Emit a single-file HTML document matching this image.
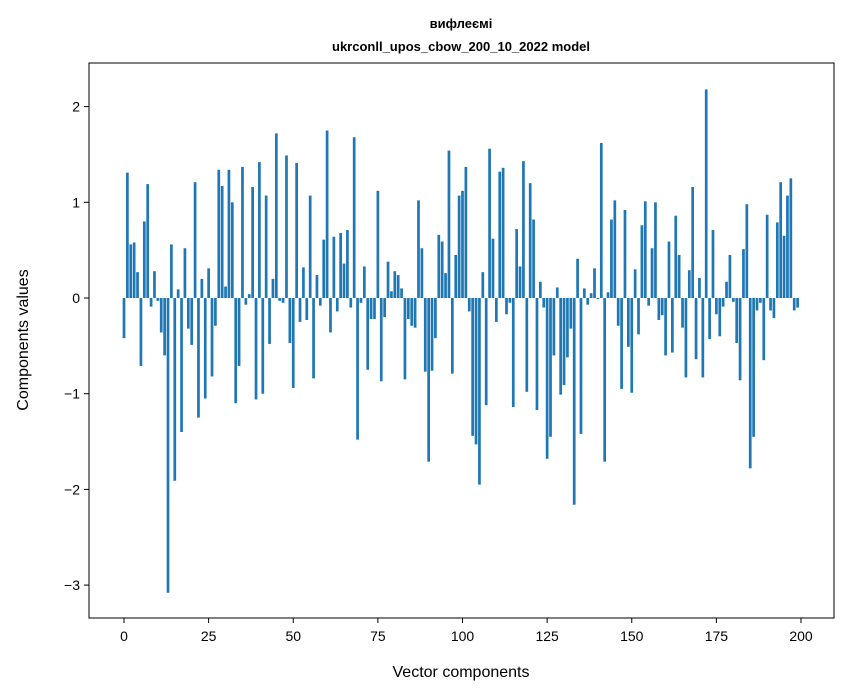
<!DOCTYPE html>
<html><head><meta charset="utf-8"><style>
body{margin:0;background:#fff;}
svg{display:block;font-family:"Liberation Sans","DejaVu Sans",sans-serif;}
</style></head><body>
<svg id="chart" width="847" height="696" xmlns="http://www.w3.org/2000/svg">
<rect width="847" height="696" fill="#fff"/>
<text x="461" y="28" text-anchor="middle" font-size="13" font-weight="bold">вифлеємі</text>
<text x="461" y="51" text-anchor="middle" font-size="13" font-weight="bold">ukrconll_upos_cbow_200_10_2022 model</text>
<g id="bars"></g>
<g id="xticks"></g>
<g id="yticks"></g>
<rect x="89" y="63" width="745" height="555" fill="none" stroke="#000" stroke-width="1"/>
<text x="461" y="677" text-anchor="middle" font-size="16">Vector components</text>
<text transform="translate(28,340) rotate(-90)" text-anchor="middle" font-size="16">Components values</text>
</svg>
<script>
const values = [
-0.42,1.31,0.56,0.58,0.27,-0.71,0.80,1.19,-0.09,0.28,
-0.03,-0.36,-0.60,-3.08,0.56,-1.91,0.09,-1.40,0.52,-0.32,
-0.49,1.21,-1.25,0.20,-1.05,0.31,-0.82,-0.29,1.34,1.17,
0.12,1.34,1.00,-1.10,-0.71,1.37,-0.07,0.04,1.16,-1.06,
1.42,-1.00,1.07,-0.48,0.20,1.72,-0.03,-0.05,1.49,-0.47,
-0.94,1.41,-0.25,0.32,-0.23,1.07,-0.84,0.24,-0.08,0.61,
1.75,-0.36,0.64,-0.14,0.68,0.36,0.71,-0.10,1.68,-1.48,
-0.05,0.33,-0.75,-0.22,-0.22,1.12,-0.87,-0.20,0.38,0.07,
0.28,0.24,0.10,-0.85,-0.22,-0.29,-0.31,1.02,0.52,-0.77,
-1.71,-0.76,-0.42,0.66,0.59,0.26,1.54,-0.79,0.45,1.07,
1.12,1.37,-0.14,-1.44,-1.53,-1.95,0.27,-1.12,1.56,0.62,
-0.25,1.32,1.36,-0.17,-0.05,-1.14,0.72,0.33,1.43,-0.98,
1.20,0.82,-1.17,0.17,-0.10,-1.68,-1.45,-0.60,0.11,-1.01,
-0.91,-0.62,-0.32,-2.16,0.41,-1.42,0.10,-0.07,0.05,0.31,
-0.01,1.62,-1.71,0.06,0.82,1.02,-0.29,-0.95,0.92,-0.51,
-0.99,0.30,-0.38,0.76,1.01,-0.08,0.52,1.00,-0.23,-0.18,
-0.60,0.59,-0.57,0.86,0.45,-0.31,-0.83,0.29,1.16,-0.64,
0.21,-0.83,2.18,-0.43,0.71,-0.17,-0.40,-0.09,0.17,0.45,
-0.04,-0.47,-0.86,0.51,0.98,-1.78,-1.45,-0.13,-0.05,-0.65,
0.87,-0.13,-0.21,0.79,1.21,0.65,1.07,1.25,-0.13,-0.10
];
const xTicks = [0,25,50,75,100,125,150,175,200];
const yTicks = [-3,-2,-1,0,1,2];
const yTickLabels = ["\u22123","\u22122","\u22121","0","1","2"];
const NS="http://www.w3.org/2000/svg";
function xs(i){return 124 + 3.385*i;}
function ys(v){return 298 - 95.7*v;}
const bars=document.getElementById('bars');
values.forEach((v,i)=>{
  const r=document.createElementNS(NS,'rect');
  
  
  const y0=ys(0), y1=ys(v);
  r.setAttribute('x',xs(i)-1.354);
  r.setAttribute('width',2.708);
  r.setAttribute('y',Math.min(y0,y1));
  r.setAttribute('height',Math.abs(y1-y0));
  r.setAttribute('fill','#1f77b4');
  bars.appendChild(r);
});
const xg=document.getElementById('xticks');
xTicks.forEach(t=>{
  const l=document.createElementNS(NS,'line');
  
  
  l.setAttribute('x1',xs(t));l.setAttribute('x2',xs(t));
  l.setAttribute('y1',618);l.setAttribute('y2',623);
  l.setAttribute('stroke','#000');
  xg.appendChild(l);
  const tx=document.createElementNS(NS,'text');
  
  
  tx.setAttribute('x',xs(t));tx.setAttribute('y',641);
  tx.setAttribute('text-anchor','middle');tx.setAttribute('font-size','14');
  tx.textContent=t;
  xg.appendChild(tx);
});
const yg=document.getElementById('yticks');
yTicks.forEach((t,k)=>{
  const l=document.createElementNS(NS,'line');
  
  
  l.setAttribute('x1',84);l.setAttribute('x2',89);
  l.setAttribute('y1',ys(t));l.setAttribute('y2',ys(t));
  l.setAttribute('stroke','#000');
  yg.appendChild(l);
  const tx=document.createElementNS(NS,'text');
  
  
  tx.setAttribute('x',80);tx.setAttribute('y',ys(t)+5);
  tx.setAttribute('text-anchor','end');tx.setAttribute('font-size','14');
  tx.textContent=yTickLabels[k];
  yg.appendChild(tx);
});
</script>
</body></html>
